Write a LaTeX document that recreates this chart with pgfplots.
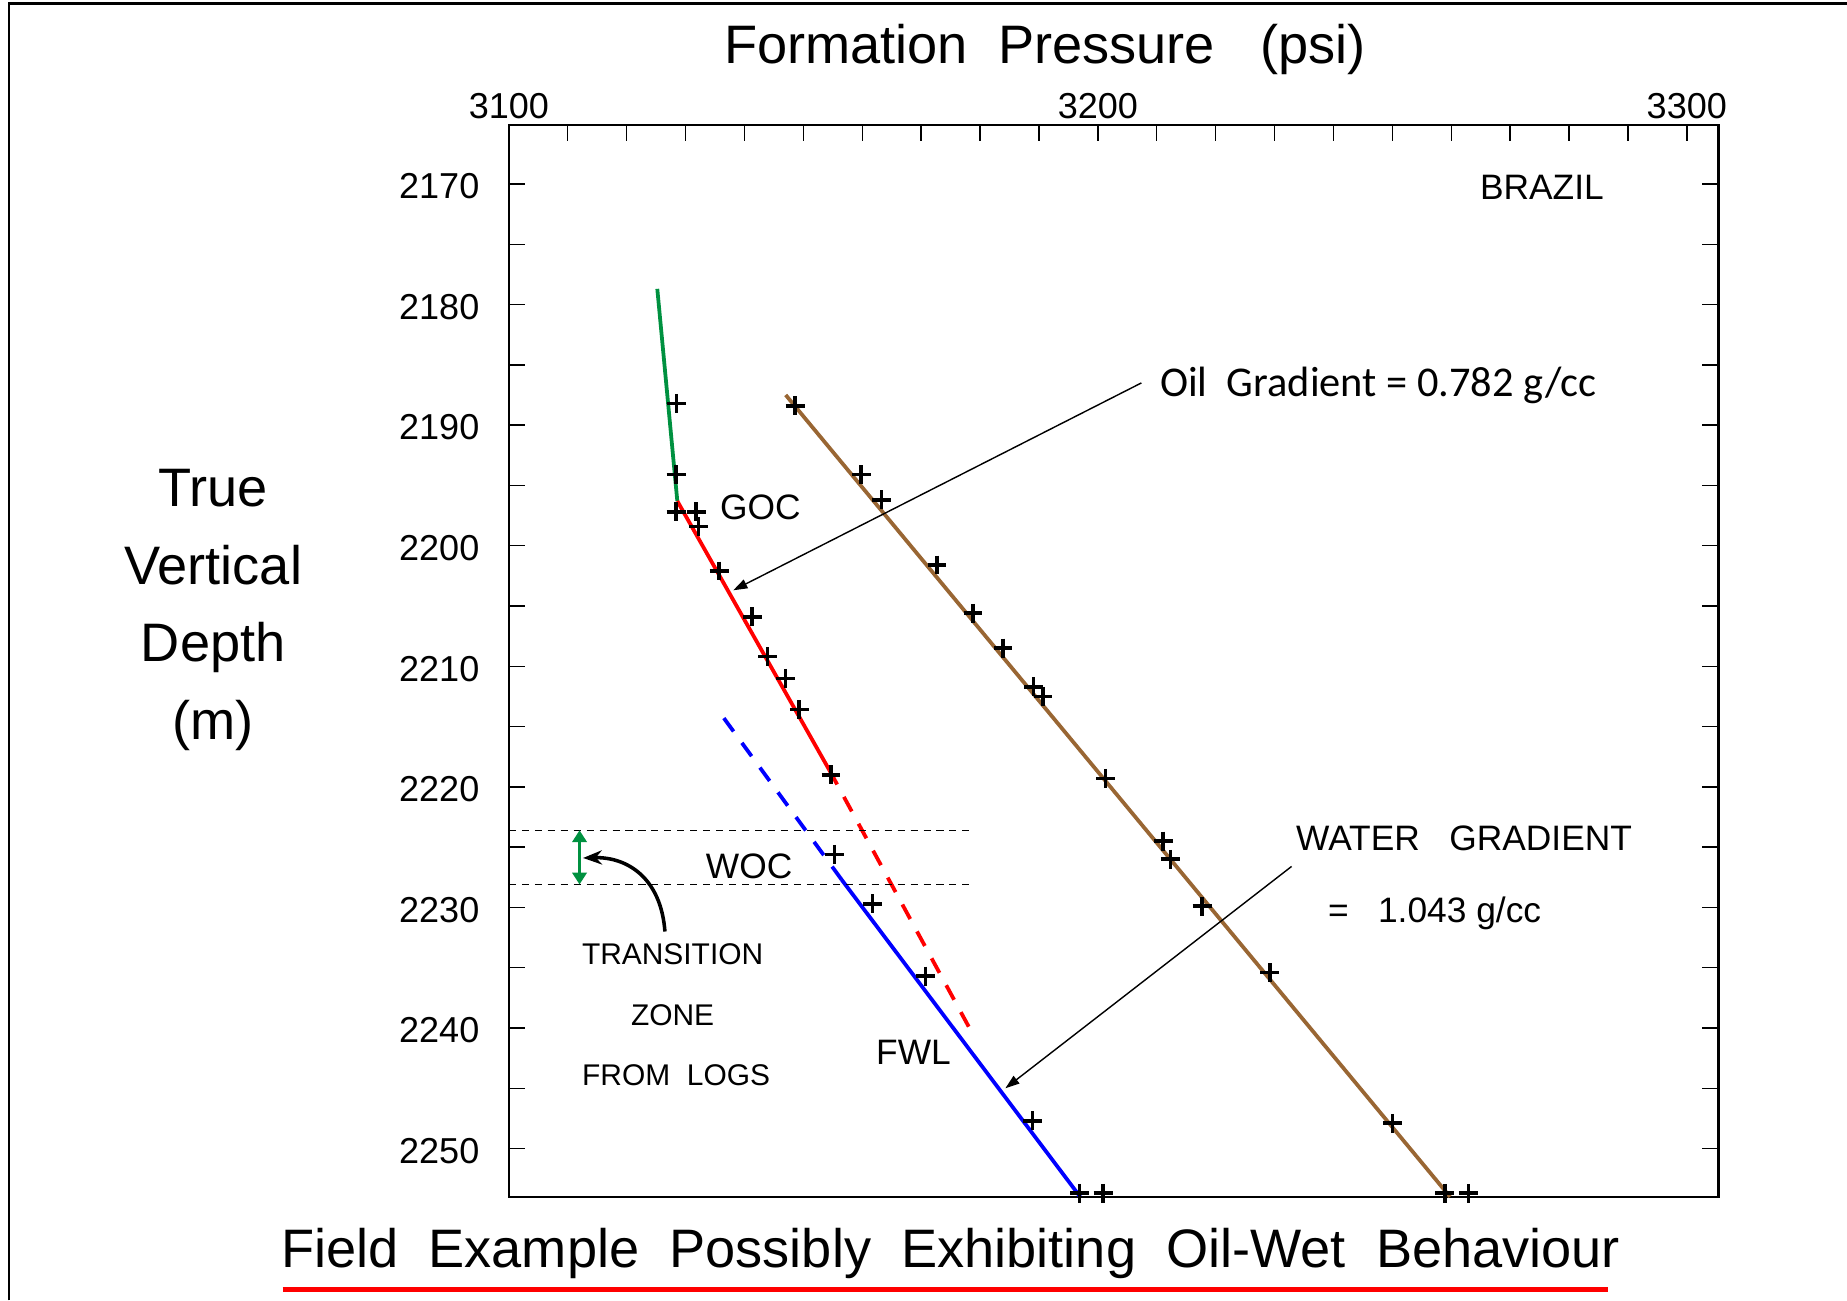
\documentclass[border=0pt]{standalone}
\usepackage{pgfplots}
\pgfplotsset{compat=1.18}
\usepackage{fontspec}
\setmainfont{Liberation Sans}
\newfontfamily\calibri{Carlito}
\usetikzlibrary{arrows.meta}
\definecolor{ggreen}{RGB}{0,145,64}
\definecolor{gbrown}{RGB}{153,102,51}
\begin{document}
\begin{tikzpicture}
\path[use as bounding box] (0,0) rectangle (784pt,552pt);
\draw[line width=0.8pt] (4pt,0) -- (4pt,550.5pt);
\draw[line width=1.5pt] (3.6pt,550.5pt) -- (784pt,550.5pt);
\begin{axis}[
 at={(216pt,44pt)}, anchor=south west,
 scale only axis, width=513.5pt, height=455pt,
 xmin=3100, xmax=3305.4, ymin=2165.1, ymax=2254, y dir=reverse,
 axis line style={line width=1pt},
 xtick={3100,3200,3300}, minor xtick={3110,3120,...,3290},
 xtick pos=right, xticklabel pos=right,
 ytick={2170,2180,...,2250}, minor ytick={2175,2185,...,2245},
 ytick pos=both, yticklabel pos=left,
 tick align=inside, major tick length=7pt, minor tick length=7pt,
 tick style={black, line width=0.6pt},
 scaled ticks=false,
 ticklabel style={font=\fontsize{15.3}{18}\selectfont},
 /pgf/number format/assume math mode=true,
 /pgf/number format/1000 sep={},
 yticklabel style={xshift=-9pt, yshift=-1pt},
 xticklabel style={yshift=-1pt},
 clip=false,
]
% gradient lines
\addplot[ggreen, line width=1.6pt] coordinates {(3125.2,2178.7) (3128.6,2196.3)};
\addplot[red, line width=1.6pt] coordinates {(3128.6,2196.3) (3154.4,2218.6)};
\addplot[red, line width=1.6pt, dash pattern=on 7pt off 6pt] coordinates {(3154.4,2218.6) (3179.2,2240.9)};
\addplot[blue, line width=1.6pt, dash pattern=on 7pt off 6pt] coordinates {(3136.5,2214.3) (3156.5,2227.7)};
\addplot[blue, line width=1.6pt] coordinates {(3156.5,2227.7) (3197.0,2254.0)};
\addplot[gbrown, line width=1.6pt] coordinates {(3147.0,2187.5) (3259.8,2254.0)};
% transition zone limits
\addplot[black, line width=0.6pt, dash pattern=on 3pt off 2.5pt] coordinates {(3100,2223.6) (3178.7,2223.6)};
\addplot[black, line width=0.6pt, dash pattern=on 3pt off 2.5pt] coordinates {(3100,2228.1) (3178.1,2228.1)};
% pressure points, well 1
\addplot[only marks, mark=+, mark size=4pt, mark options={line width=1.5pt}, black] coordinates {
(3128.5,2188.2) (3128.4,2194.1)
(3128.4,2197.2) (3131.8,2197.2) (3132.2,2198.4)
(3135.7,2202.1) (3141.3,2205.9) (3143.9,2209.2) (3147.0,2211.0) (3149.3,2213.6) (3154.7,2219.0)
(3155.3,2225.6) (3161.7,2229.7) (3170.7,2235.7) (3188.9,2247.7) (3196.9,2253.7) (3200.9,2253.7)
};
% pressure points, well 2
\addplot[only marks, mark=+, mark size=4pt, mark options={line width=1.5pt}, black] coordinates {
(3148.6,2188.4) (3159.8,2194.1) (3163.3,2196.2) (3172.7,2201.6) (3178.8,2205.6) (3183.9,2208.5)
(3189.1,2211.7) (3190.7,2212.5) (3201.3,2219.3) (3211.1,2224.5) (3212.3,2226.0) (3217.7,2229.9)
(3229.2,2235.4) (3250.0,2247.9) (3258.9,2253.7) (3262.9,2253.7)
};
% arrows
\draw[line width=0.6pt, -{Triangle[length=6pt,width=4pt]}] (axis cs:3207.4,2186.5) -- (axis cs:3138.1,2203.7);
\draw[line width=0.6pt, -{Triangle[length=6pt,width=4pt]}] (axis cs:3232.9,2226.6) -- (axis cs:3184.3,2245.0);
\draw[line width=1.5pt, -{Stealth[length=8pt,width=6pt]}] (axis cs:3126.5,2232.0) .. controls (axis cs:3125.8,2227.5) and (axis cs:3120,2225.8) .. (axis cs:3112.6,2225.9);
\draw[ggreen, line width=1.5pt, {Triangle[length=5pt,width=6pt]}-{Triangle[length=5pt,width=6pt]}] (axis cs:3112,2223.6) -- (axis cs:3112,2228.1);
% labels
\node[inner sep=0, font=\fontsize{15}{18}\selectfont] at (axis cs:3275.4,2170.3) {BRAZIL};
\node[anchor=west, inner sep=0, font=\calibri\fontsize{18}{22}\selectfont] at (axis cs:3210.5,2186.7) {Oil\ \ Gradient = 0.782 g/cc};
\node[anchor=west, inner sep=0, font=\fontsize{15}{18}\selectfont] at (axis cs:3233.6,2224.3) {WATER\ \ \ GRADIENT};
\node[anchor=west, inner sep=0, font=\fontsize{15}{18}\selectfont] at (axis cs:3239.0,2230.5) {=\ \ \ 1.043 g/cc};
\node[inner sep=0, font=\fontsize{15}{18}\selectfont] at (axis cs:3142.7,2196.8) {GOC};
\node[inner sep=0, font=\fontsize{15}{18}\selectfont] at (axis cs:3140.8,2226.6) {WOC};
\node[inner sep=0, font=\fontsize{15}{18}\selectfont] at (axis cs:3168.7,2242.0) {FWL};
\node[inner sep=0, font=\fontsize{12.7}{15}\selectfont] at (axis cs:3127.8,2233.9) {TRANSITION};
\node[inner sep=0, font=\fontsize{12.7}{15}\selectfont] at (axis cs:3127.8,2238.9) {ZONE};
\node[inner sep=0, font=\fontsize{12.7}{15}\selectfont] at (axis cs:3128.4,2243.9) {FROM\ \ LOGS};
\end{axis}
\node[anchor=base, inner sep=0, font=\fontsize{23}{28}\selectfont] at (443.5pt,525pt) {Formation\ \ Pressure\ \ \ (psi)};
\node[anchor=base, inner sep=0, font=\fontsize{23}{28}\selectfont] at (90.5pt,337pt) {True};
\node[anchor=base, inner sep=0, font=\fontsize{23}{28}\selectfont] at (90.5pt,304pt) {Vertical};
\node[anchor=base, inner sep=0, font=\fontsize{23}{28}\selectfont] at (90.5pt,271pt) {Depth};
\node[anchor=base, inner sep=0, font=\fontsize{23}{28}\selectfont] at (90.5pt,238pt) {(m)};
\node[anchor=base, inner sep=0, font=\fontsize{23}{28}\selectfont] at (403.5pt,14pt) {Field\ \ Example\ \ Possibly\ \ Exhibiting\ \ Oil-Wet\ \ Behaviour};
\draw[red, line width=2pt] (120pt,4.5pt) -- (682.5pt,4.5pt);
\end{tikzpicture}
\end{document}
